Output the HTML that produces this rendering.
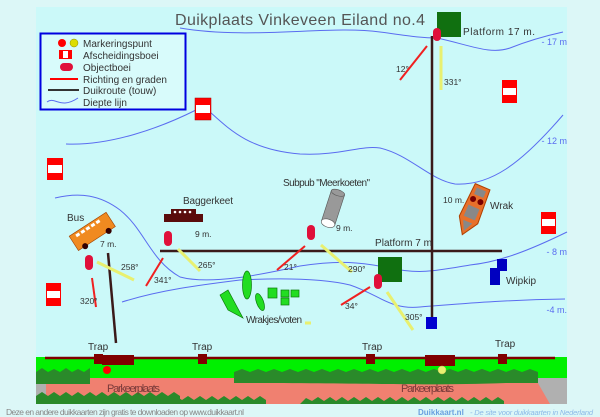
<!DOCTYPE html>
<html><head><meta charset="utf-8"><style>
html,body{margin:0;padding:0;background:#d8f6f6;}
svg{display:block;font-family:"Liberation Sans",sans-serif;}
</style></head><body>
<svg width="600" height="417" viewBox="0 0 600 417" xmlns="http://www.w3.org/2000/svg">
<rect width="600" height="417" fill="#dcf7f7"/>
<rect x="36" y="7" width="531" height="352" fill="#cbf9f9"/>
<g fill="none" stroke="#5a6cf0" stroke-width="1">
<path d="M180,28 C250,40 330,25 380,32 C410,36 420,38 437,38 C470,45 490,55 510,48 C530,40 545,36 563,32"/>
<path d="M66,144 C110,146 160,128 196,110"/>
<path d="M210,112 C230,130 250,150 300,154 C340,156 360,145 380,148 C410,155 430,180 455,184 C490,186 520,165 563,115"/>
<path d="M55,198 C80,192 100,195 120,210 C145,230 150,260 180,277 C210,285 260,275 300,266 C340,260 360,262 390,268 C420,275 440,270 470,265 C500,262 530,250 567,232"/>
<path d="M122,302 C160,290 200,285 240,280 C280,278 320,278 350,285 C380,295 390,310 420,307 C460,304 500,300 565,299"/>
</g>
<g fill="#5a6cf0" font-size="9" text-anchor="end"><text x="567" y="45">- 17 m</text><text x="567" y="144">- 12 m</text><text x="567" y="255">- 8 m</text><text x="567" y="313">-4 m.</text></g>
<text x="175" y="25" font-size="16" fill="#555" textLength="250">Duikplaats Vinkeveen Eiland no.4</text>
<rect x="40.5" y="33.5" width="145" height="76" fill="#d8fbfb" stroke="#0000e0" stroke-width="2"/>
<circle cx="62" cy="43" r="4" fill="#f00"/><circle cx="74" cy="43" r="4" fill="#dd0" stroke="#880" stroke-width="0.5"/>
<rect x="59" y="50" width="13" height="9" fill="#f00"/><rect x="63" y="51" width="5" height="7" fill="#fff"/>
<rect x="60" y="63" width="13" height="8" rx="4" fill="#e0103a"/>
<line x1="50" y1="79" x2="78" y2="79" stroke="#f00" stroke-width="2"/>
<line x1="48" y1="90" x2="79" y2="90" stroke="#333" stroke-width="2"/>
<path d="M47,102 C55,96 60,110 78,98" fill="none" stroke="#5a6cf0"/>
<g font-size="10" fill="#333"><text x="83" y="47">Markeringspunt</text><text x="83" y="59">Afscheidingsboei</text><text x="83" y="71">Objectboei</text><text x="83" y="83">Richting en graden</text><text x="83" y="94">Duikroute (touw)</text><text x="83" y="106">Diepte lijn</text></g>
<g><g transform="translate(195,98)"><rect width="16" height="22" fill="#f00" stroke="#a00" stroke-width="0.5"/><rect x="1" y="7" width="14" height="8" fill="#fff"/></g>
<g transform="translate(47,158)"><rect width="16" height="22" fill="#f00"/><rect x="1" y="7" width="14" height="8" fill="#fff"/></g>
<g transform="translate(502,80)"><rect width="15" height="23" fill="#f00"/><rect x="1" y="8" width="13" height="7" fill="#fff"/></g>
<g transform="translate(541,212)"><rect width="15" height="22" fill="#f00"/><rect x="1" y="7" width="13" height="7" fill="#fff"/></g>
<g transform="translate(46,283)"><rect width="15" height="23" fill="#f00"/><rect x="1" y="8" width="13" height="7" fill="#fff"/></g></g>
<g stroke="#3a1a1a" stroke-width="2.5"><line x1="432" y1="36" x2="432" y2="320"/><line x1="160" y1="251" x2="502" y2="251"/><line x1="108" y1="253" x2="116" y2="343"/></g>
<rect x="426" y="317" width="11" height="12" fill="#0000d0"/>
<rect x="437" y="12" width="24" height="25" fill="#107010"/>
<rect x="433" y="28" width="8" height="13" rx="4" fill="#e0103a"/>
<text x="463" y="35" font-size="10" fill="#333" textLength="72">Platform 17 m.</text>
<rect x="378" y="257" width="24" height="25" fill="#107010"/>
<rect x="374" y="274" width="8" height="15" rx="4" fill="#e0103a"/>
<text x="375" y="246" font-size="10" fill="#333" textLength="57">Platform 7 m</text>
<g stroke="#f02020" stroke-width="2"><line x1="427" y1="46" x2="400" y2="80"/><line x1="92" y1="278" x2="96" y2="307"/><line x1="163" y1="258" x2="146" y2="286"/><line x1="305" y1="246" x2="277" y2="270"/><line x1="370" y1="287" x2="341" y2="305"/></g>
<g stroke="#e8f070" stroke-width="3"><line x1="441" y1="46" x2="441" y2="90"/><line x1="97" y1="262" x2="134" y2="280"/><line x1="178" y1="249" x2="200" y2="271"/><line x1="321" y1="245" x2="352" y2="272"/><line x1="387" y1="292" x2="413" y2="330"/><line x1="305" y1="323" x2="311" y2="323"/></g>
<g font-size="8.5" fill="#333"><text x="396" y="72">12°</text><text x="444" y="85">331°</text><text x="80" y="304">320°</text><text x="121" y="270">258°</text><text x="154" y="283">341°</text><text x="198" y="268">265°</text><text x="284" y="270">21°</text><text x="348" y="272">290°</text><text x="345" y="309">34°</text><text x="405" y="320">305°</text></g>
<text x="67" y="221" font-size="10" fill="#333">Bus</text>
<g transform="translate(92,231) rotate(-33)"><rect x="-22" y="-8" width="44" height="17" fill="#f08a20" stroke="#a04000" stroke-width="0.6"/><g fill="#fff"><rect x="-16" y="-6" width="4" height="3"/><rect x="-10" y="-6" width="4" height="3"/><rect x="-4" y="-6" width="4" height="3"/><rect x="2" y="-6" width="4" height="3"/><rect x="8" y="-6" width="4" height="3"/></g><circle cx="-14" cy="9" r="3" fill="#300"/><circle cx="14" cy="9" r="3" fill="#300"/></g>
<text x="100" y="247" font-size="8.5" fill="#333">7 m.</text>
<rect x="85" y="255" width="8" height="15" rx="4" fill="#e0103a"/>
<text x="183" y="204" font-size="10" fill="#333" textLength="50">Baggerkeet</text>
<rect x="171" y="209" width="25" height="6" fill="#5a0c0c"/><rect x="164" y="214" width="39" height="8" fill="#5a0c0c"/>
<g fill="#fff"><circle cx="175" cy="212" r="1.3"/><circle cx="180" cy="212" r="1.3"/><circle cx="185" cy="212" r="1.3"/><circle cx="190" cy="212" r="1.3"/></g>
<text x="195" y="237" font-size="8.5" fill="#333">9 m.</text>
<rect x="164" y="231" width="8" height="15" rx="4" fill="#e0103a"/>
<text x="283" y="186" font-size="10" fill="#333" textLength="87">Subpub "Meerkoeten"</text>
<g transform="translate(333,208) rotate(18)"><rect x="-7" y="-16" width="14" height="32" fill="#999" stroke="#555" stroke-width="0.6"/><ellipse cx="0" cy="-16" rx="7" ry="3" fill="#999" stroke="#555" stroke-width="0.6"/><ellipse cx="0" cy="16" rx="7" ry="4" fill="#fff" stroke="#555" stroke-width="0.6"/></g>
<text x="336" y="231" font-size="8.5" fill="#333">9 m.</text>
<rect x="307" y="225" width="8" height="15" rx="4" fill="#e0103a"/>
<g transform="translate(474,207) rotate(23)"><path d="M-8,-22 L8,-22 L10,14 L0,30 L-10,14 Z" fill="#e8702a" stroke="#b04000"/><rect x="-5" y="-19" width="10" height="7" fill="#888"/><circle cx="-4" cy="-7" r="3" fill="#700"/><circle cx="4" cy="-7" r="3" fill="#700"/><rect x="-6" y="0" width="12" height="12" fill="#888"/><path d="M-5,16 L5,16 L0,26 Z" fill="#888"/></g>
<text x="443" y="203" font-size="8.5" fill="#333">10 m.</text>
<text x="490" y="209" font-size="10" fill="#333">Wrak</text>
<rect x="497" y="259" width="10" height="12" fill="#0000c0"/><rect x="490" y="268" width="10" height="17" fill="#0000c0"/>
<text x="506" y="284" font-size="10" fill="#333">Wipkip</text>
<g fill="#22dd22" stroke="#0a7a0a" stroke-width="0.7">
<ellipse cx="247" cy="285" rx="4.5" ry="14"/><ellipse cx="260" cy="302" rx="3.5" ry="9" transform="rotate(-20 260 302)"/>
<path d="M220,295 L228,290 L243,318 L228,310 Z"/>
<rect x="268" y="288" width="9" height="10"/><rect x="281" y="290" width="8" height="7"/><rect x="291" y="290" width="8" height="7"/><rect x="281" y="298" width="8" height="7"/></g>
<text x="246" y="323" font-size="10" fill="#333" textLength="56">Wrakjes/voten</text>
<g font-size="10" fill="#333"><text x="88" y="350">Trap</text><text x="192" y="350">Trap</text><text x="362" y="350">Trap</text><text x="495" y="347">Trap</text></g>
<rect x="36" y="357" width="531" height="22" fill="#00f000"/>
<polygon points="36,378 567,378 567,404 36,404" fill="#f08070"/>
<rect x="36" y="378" width="10" height="26" fill="#b0b0b0"/>
<polygon points="535,378 567,378 567,404 550,404" fill="#b0b0b0"/>
<g fill="#2a8a2a">
<path d="M36,372 l6,-4 6,4 6,-3 6,3 6,-4 6,4 6,-3 6,3 6,-4 V384 H36 Z"/>
<path d="M234,372 l8,-3 8,3 8,-3 8,3 8,-3 8,3 8,-3 8,3 8,-3 8,3 8,-3 8,3 8,-3 8,3 8,-3 8,3 8,-3 8,3 8,-3 8,3 8,-3 8,3 8,-3 8,3 8,-3 8,3 8,-3 8,3 8,-3 8,3 8,-3 8,3 8,-3 8,3 V383 C420,386 380,383 234,383 Z"/>
<path d="M426,372 l8,-3 8,3 8,-3 8,3 8,-3 8,3 8,-3 8,3 8,-3 8,3 8,-3 8,3 8,-3 8,3 V383 H426 Z"/>
<path d="M36,404 V396 l6,-4 6,4 6,-4 6,4 6,-4 6,4 6,-4 6,4 6,-4 6,4 6,-4 6,4 6,-4 6,4 6,-4 6,4 6,-4 6,4 6,-4 6,4 6,-4 6,4 6,-4 6,4 V404 Z"/>
<path d="M170,404 l6,-8 6,4 6,-4 6,4 6,-4 6,4 6,-4 6,4 6,-4 6,4 6,-4 6,4 6,-4 6,4 6,-4 6,4 V404 Z"/>
<path d="M300,404 l6,-6 6,3 6,-4 6,4 6,-4 6,4 6,-4 6,4 6,-4 6,4 6,-4 6,4 6,-4 6,4 6,-4 6,4 6,-4 6,4 6,-4 6,4 6,-4 6,4 6,-4 6,4 6,-4 6,4 6,-4 6,4 6,-4 6,4 6,-4 6,4 6,-4 6,4 V404 Z"/>
</g>
<text x="107" y="392" font-size="11" fill="#7a3a3a" textLength="53">Parkeerplaats</text>
<text x="401" y="392" font-size="11" fill="#7a3a3a" textLength="53">Parkeerplaats</text>
<line x1="45" y1="358" x2="555" y2="358" stroke="#800000" stroke-width="2.5"/>
<g fill="#800000"><rect x="94" y="354" width="9" height="10"/><rect x="102" y="355" width="32" height="10"/><rect x="198" y="354" width="9" height="10"/><rect x="366" y="354" width="9" height="10"/><rect x="425" y="355" width="30" height="11"/><rect x="498" y="354" width="9" height="10"/></g>
<circle cx="107" cy="370" r="4" fill="#f00"/>
<circle cx="442" cy="370" r="4" fill="#e8f070" stroke="#bb5" stroke-width="0.5"/>
<text x="6" y="415" font-size="8.5" fill="#888" textLength="238">Deze en andere duikkaarten zijn gratis te downloaden op www.duikkaart.nl</text>
<text x="418" y="415" font-size="8" fill="#6aa0e0" font-weight="bold">Duikkaart.nl</text>
<text x="470" y="415" font-size="7.5" fill="#8ab8e8" font-style="italic" textLength="123">- De site voor duikkaarten in Nederland</text>
</svg>
</body></html>
